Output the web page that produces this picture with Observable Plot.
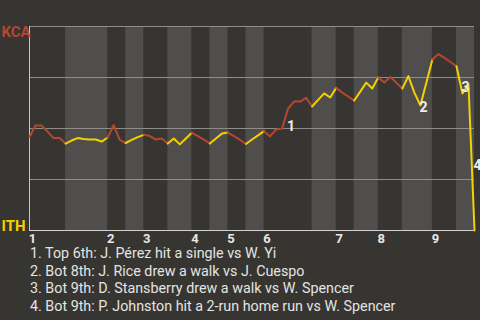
<!DOCTYPE html>
<html>
<head>
<meta charset="utf-8">
<script src="https://cdn.jsdelivr.net/npm/d3@7"></script>
<script src="https://cdn.jsdelivr.net/npm/@observablehq/plot@0.6"></script>
<style>
  html, body { margin: 0; padding: 0; background: #373531; }
  body { width: 480px; height: 320px; overflow: hidden; font-family: Roboto, "Noto Sans", sans-serif; }
  #chart svg { display: block; }
  #notes { margin: 0; padding: 0 0 0 30px; color: #e4e4e2; font-size: 14.3px; line-height: 17.6px; white-space: nowrap; }
</style>
</head>
<body>
<div id="chart"></div>
<div id="notes"></div>
<script>
// Teams (top = away, bottom = home)
const teams = ["KCA", "ITH"];
const teamColors = ["#b3472f", "#f5d000"];
// Innings and plate appearances per half-inning (top, bottom, top, bottom, ...)
const innings = [1, 2, 3, 4, 5, 6, 7, 8, 9];
const halfInningPAs = [6, 7, 3, 3, 4, 4, 3, 3, 3, 3, 8, 4, 3, 4, 4, 5, 4, 3];
// KCA win probability (%) after each plate appearance (index 0 = game start)
const kcaWinPct = [
  45.8, 51.5, 51.5, 48.5, 45.3, 45.3, 42.6,
  44.1, 45.3, 44.9, 44.6, 44.6, 43.6, 45.6,
  51.7, 44.4, 42.9,
  44.4, 45.8, 46.9,
  46.3, 44.6, 45.1, 42.6,
  45.1, 42.2, 45.1, 47.9,
  46.3, 44.6, 42.6,
  45.1, 47.5, 48.0,
  46.3, 44.4, 42.4,
  44.6, 46.6, 48.7,
  46.1, 49.5, 50.0, 59.8, 63.2, 63.2, 65.0, 60.8,
  64.0, 67.2, 65.2, 69.9,
  67.6, 65.7, 63.7,
  68.1, 72.5, 69.6, 75.0,
  72.5, 75.2, 72.5, 69.6,
  75.7, 67.6, 61.3, 72.5, 83.8,
  86.5, 84.6, 82.6, 80.5,
  67.2, 71.6, 0
];
// Key events: PA index at which they happen, and their descriptions
const eventNumbers = ["1", "2", "3", "4"];
const eventPA = [43, 65, 72, 74];
const eventText = [
  "Top 6th: J. Pérez hit a single vs W. Yi",
  "Bot 8th: J. Rice drew a walk vs J. Cuespo",
  "Bot 9th: D. Stansberry drew a walk vs W. Spencer",
  "Bot 9th: P. Johnston hit a 2-run home run vs W. Spencer"
];

// Build half-inning table
const halves = [];
let start = 0;
halfInningPAs.forEach((n, i) => {
  halves.push({inning: innings[Math.floor(i / 2)], side: i % 2 === 0 ? "top" : "bottom", start, end: start + n, id: i});
  start += n;
});
const totalPA = start;

// Line rows: each half inning is its own series, sharing boundary points
const lineRows = [];
halves.forEach(h => {
  for (let k = h.start; k <= h.end; k++) {
    lineRows.push({k, p: kcaWinPct[k] / 100, id: h.id, side: h.side});
  }
});

const labelRows = eventPA.map((k, i) => ({
  k, label: eventNumbers[i], p: (kcaWinPct[k - 1] + kcaWinPct[k]) / 200
}));

const tickVals = halves.filter(h => h.side === "top").map(h => h.start + 0.5);

const chart = Plot.plot({
  width: 480,
  height: 245,
  marginLeft: 29,
  marginRight: 6,
  marginTop: 26,
  marginBottom: 15,
  style: {background: "transparent", color: "#e8e8e6", fontFamily: "Roboto, 'Noto Sans', sans-serif", fontSize: "13px", fontWeight: "bold", overflow: "visible"},
  x: {domain: [0, totalPA], ticks: tickVals, tickFormat: (d) => innings[tickVals.indexOf(d)], tickSize: 0, tickPadding: 3, label: null},
  y: {domain: [0, 1], axis: null},
  color: {domain: ["top", "bottom"], range: teamColors},
  marks: [
    Plot.rect(halves.filter(h => h.side === "bottom"), {x1: "start", x2: "end", fill: "#4f4e4c"}),
    Plot.ruleY([0.25, 0.5, 0.75, 1], {stroke: "#8e8d8a", strokeWidth: 1}),
    Plot.ruleY([0], {stroke: "#d2d2d0", strokeWidth: 1}),
    Plot.ruleX([0], {stroke: "#c8c8c6", strokeWidth: 1}),
    Plot.line(lineRows, {x: "k", y: "p", z: "id", stroke: "side", strokeWidth: 2, curve: "linear"}),
    Plot.text(labelRows, {x: "k", y: "p", text: "label", textAnchor: "start", dx: -1, dy: 8, fill: "#eeeeec", fontSize: 14, fontWeight: "bold"}),
    Plot.text([teams[0]], {x: 0, y: 1, text: d => d, textAnchor: "start", lineAnchor: "top", dx: -28, fill: teamColors[0], fontSize: 15, fontWeight: "bold"}),
    Plot.text([teams[1]], {x: 0, y: 0, text: d => d, textAnchor: "start", lineAnchor: "bottom", dx: -28, fill: teamColors[1], fontSize: 15, fontWeight: "bold"})
  ]
});
document.getElementById("chart").appendChild(chart);

const notes = document.getElementById("notes");
eventText.forEach((t, i) => {
  const d = document.createElement("div");
  d.textContent = eventNumbers[i] + ". " + t;
  notes.appendChild(d);
});
</script>
</body>
</html>
